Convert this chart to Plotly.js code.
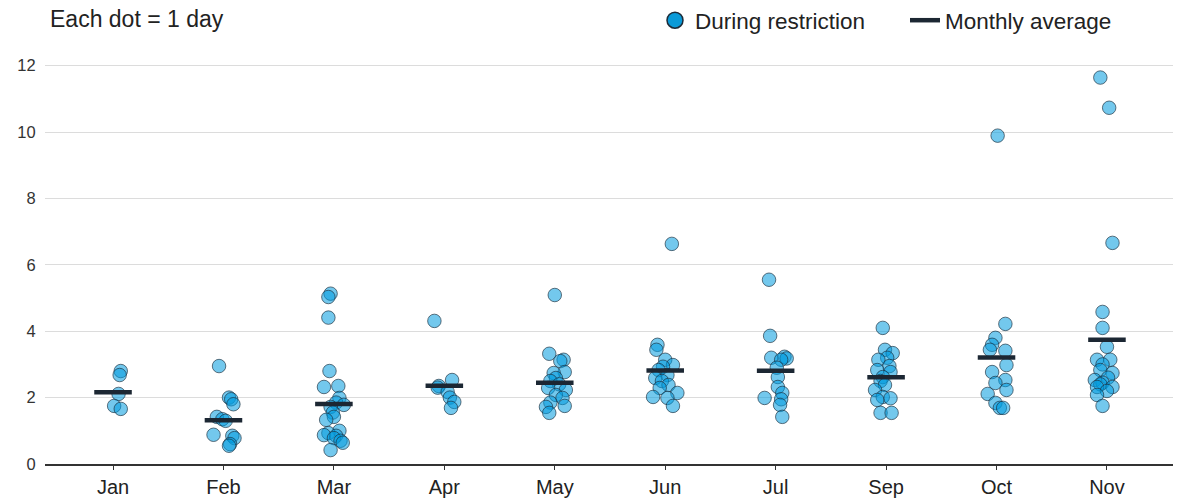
<!DOCTYPE html>
<html>
<head>
<meta charset="utf-8">
<script src="https://cdn.plot.ly/plotly-3.0.1.min.js"></script>
<style>html,body{margin:0;padding:0;background:#fff;}#chart{width:1179px;height:499px;}</style>
</head>
<body>
<div id="chart"></div>
<script>
// Month labels (categories)
const months = ["Jan","Feb","Mar","Apr","May","Jun","Jul","Sep","Oct","Nov"];

// Daily values per month
const janValues = [2.80,2.68,2.11,1.75,1.66];
const febValues = [2.95,2.00,1.95,1.80,1.42,1.35,1.30,0.88,0.85,0.78,0.60,0.55];
const marValues = [5.13,5.03,4.41,2.80,2.35,2.32,1.99,1.85,1.78,1.72,1.55,1.42,1.33,1.00,0.93,0.87,0.85,0.78,0.70,0.64,0.42];
const aprValues = [4.31,2.53,2.35,2.30,2.17,2.00,1.87,1.69];
const mayValues = [5.09,3.32,3.14,3.10,2.77,2.74,2.59,2.50,2.40,2.29,2.23,2.08,1.99,1.85,1.75,1.72,1.54];
const junValues = [6.63,3.59,3.44,3.14,2.98,2.93,2.83,2.68,2.59,2.50,2.38,2.29,2.14,2.02,1.99,1.75];
const julValues = [5.55,3.86,3.23,3.20,3.18,3.14,2.90,2.62,2.32,2.14,1.99,1.95,1.78,1.42];
const sepValues = [4.10,3.44,3.34,3.20,3.14,2.95,2.83,2.77,2.62,2.50,2.38,2.23,2.02,1.98,1.93,1.54,1.54];
const octValues = [9.89,4.22,3.80,3.59,3.44,3.41,2.98,2.77,2.53,2.44,2.23,2.11,1.84,1.69,1.69];
const novValues = [11.64,10.73,6.66,4.58,4.10,3.53,3.14,3.14,3.00,2.83,2.74,2.60,2.53,2.45,2.40,2.32,2.32,2.20,2.08,1.75];

// Horizontal jitter of each dot (in month units)
const janJitter = [0.07,0.06,0.05,0.01,0.07];
const febJitter = [-0.04,0.05,0.07,0.09,-0.06,-0.01,0.02,-0.09,0.08,0.10,0.06,0.05];
const marJitter = [-0.03,-0.05,-0.05,-0.04,0.04,-0.09,0.05,0.02,0.09,-0.03,-0.01,0.00,-0.07,0.05,-0.05,-0.09,0.02,0.00,0.06,0.08,-0.03];
const aprJitter = [-0.09,0.07,-0.05,-0.06,0.03,0.05,0.09,0.06];
const mayJitter = [0.00,-0.05,0.08,0.05,0.09,-0.01,0.01,-0.04,0.04,-0.06,0.10,0.01,0.07,-0.04,0.09,-0.08,-0.05];
const junJitter = [0.06,-0.07,-0.08,0.00,0.07,-0.02,-0.06,0.02,-0.09,-0.03,0.03,-0.05,0.11,-0.11,0.02,0.07];
const julJitter = [-0.06,-0.05,0.08,-0.04,0.10,0.05,0.01,0.02,0.02,0.06,-0.10,0.05,0.04,0.06];
const sepJitter = [-0.03,-0.01,0.06,0.01,-0.07,0.03,-0.08,0.04,-0.03,-0.05,-0.01,-0.10,-0.03,0.04,-0.08,-0.05,0.05];
const octJitter = [0.01,0.08,-0.01,-0.04,-0.06,0.08,0.09,-0.04,0.08,-0.01,0.09,-0.08,-0.01,0.03,0.06];
const novJitter = [-0.06,0.02,0.05,-0.04,-0.04,0.00,-0.09,0.03,-0.04,-0.06,0.05,0.01,-0.11,-0.04,-0.06,-0.09,0.05,0.00,-0.09,-0.04];

// Monthly averages
const monthlyAverage = [2.16,1.32,1.81,2.36,2.45,2.82,2.81,2.61,3.21,3.74];

// y-axis ticks
const yTicks = [0,2,4,6,8,10,12];

const allValues = [janValues,febValues,marValues,aprValues,mayValues,junValues,julValues,sepValues,octValues,novValues];
const allJitter = [janJitter,febJitter,marJitter,aprJitter,mayJitter,junJitter,julJitter,sepJitter,octJitter,novJitter];

const dotX = [], dotY = [];
allValues.forEach((vals, i) => {
  vals.forEach((v, j) => { dotX.push(i + allJitter[i][j]); dotY.push(v); });
});

const halfW = 0.17;
const avgX = [], avgY = [];
monthlyAverage.forEach((v, i) => {
  avgX.push(i - halfW, i + halfW, null);
  avgY.push(v, v, null);
});

const FONT = 'Liberation Sans, Arial, sans-serif';

const traces = [
  {
    type: 'scatter', mode: 'markers', x: dotX, y: dotY, showlegend: false,
    marker: {size: 13.5, color: 'rgba(0,155,222,0.55)', line: {color: 'rgba(25,45,60,0.65)', width: 1}},
    hoverinfo: 'y'
  },
  {
    type: 'scatter', mode: 'markers', x: [null], y: [null], name: 'During restriction',
    legendwidth: 205,
    marker: {size: 16, color: '#0a9ad8', line: {color: '#1d2b38', width: 1.5}}
  },
  {
    type: 'scatter', mode: 'lines', x: avgX, y: avgY, name: 'Monthly average',
    line: {color: '#1c2733', width: 4.5}, hoverinfo: 'skip'
  }
];

const layout = {
  width: 1179, height: 499,
  margin: {l: 45, r: 6, t: 49, b: 35, autoexpand: false},
  paper_bgcolor: '#fff', plot_bgcolor: '#fff',
  font: {family: FONT, color: '#222'},
  title: {
    text: 'Each dot = 1 day', x: 50/1179, xanchor: 'left', xref: 'container',
    y: 1 - 19/499, yanchor: 'middle', yref: 'container',
    font: {size: 23, color: '#222', family: FONT}
  },
  xaxis: {
    range: [-0.616, 9.598], tickvals: months.map((m, i) => i), ticktext: months,
    showgrid: false, zeroline: false, showline: true, linecolor: '#333', linewidth: 1.5,
    ticks: 'outside', ticklen: 4, tickcolor: '#333', tickwidth: 1,
    tickfont: {size: 20, color: '#222'}
  },
  yaxis: {
    range: [0, 12.5], tickvals: yTicks, showgrid: true, gridcolor: '#dcdcdc', gridwidth: 1,
    zeroline: false, showline: false, ticks: 'outside', ticklen: 5, tickcolor: 'rgba(0,0,0,0)',
    tickfont: {size: 16.5, color: '#333'}
  },
  legend: {
    orientation: 'h', x: (655 - 45) / 1128, xanchor: 'left', y: 1.0685, yanchor: 'middle',
    font: {size: 22.5, color: '#222'}, bgcolor: 'rgba(0,0,0,0)', traceorder: 'normal'
  },
  showlegend: true
};

Plotly.newPlot('chart', traces, layout, {displayModeBar: false, staticPlot: true});
</script>
</body>
</html>
